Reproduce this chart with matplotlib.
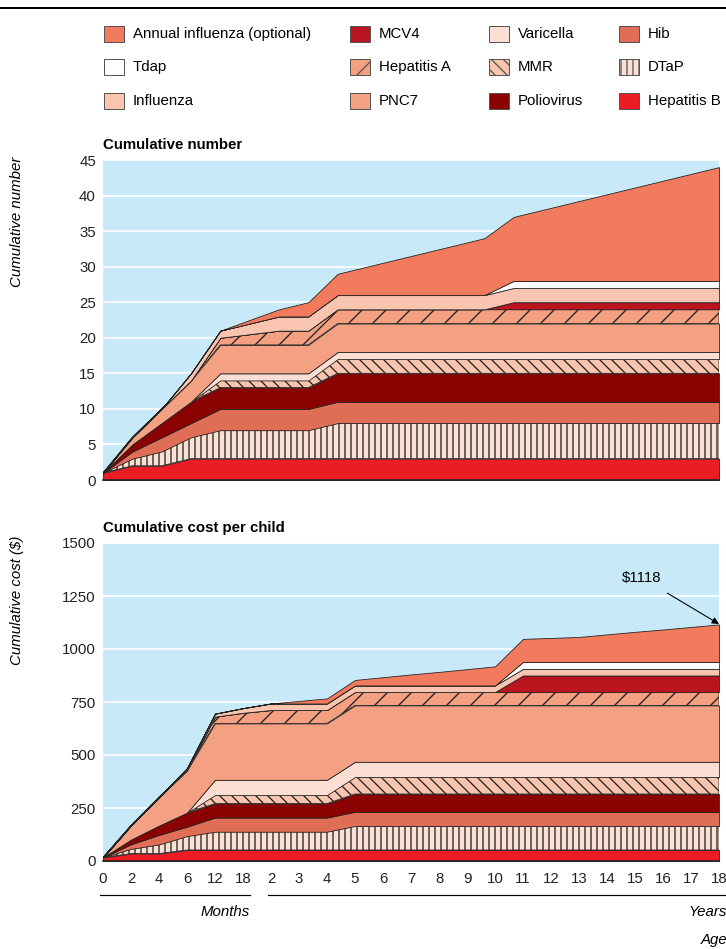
import numpy as np
import matplotlib
matplotlib.use("Agg")
import matplotlib.pyplot as plt
from matplotlib.patches import Rectangle
from matplotlib.lines import Line2D

plt.rcParams['font.family'] = ['Liberation Sans', 'DejaVu Sans']
plt.rcParams['hatch.linewidth'] = 1.3

# ages shown on the cost chart (months then years)
age_labels = ["0", "2", "4", "6", "12", "18",
              "2", "3", "4", "5", "6", "7", "8", "9", "10",
              "11", "12", "13", "14", "15", "16", "17", "18"]

# the number chart in the original has no separate 18-month point,
# its points sit on a 22-slot grid (18 mo and 2 y share slot 5)
top_slots = [0, 1, 2, 3, 4, 6, 7, 8, 9, 10, 11, 12, 13, 14, 15, 16, 17, 18, 19, 20, 21]

# stacking order, bottom to top
names = ["Hepatitis B", "DTaP", "Hib", "Poliovirus", "MMR", "Varicella",
         "PNC7", "Hepatitis A", "MCV4", "Influenza", "Tdap",
         "Annual influenza (optional)"]

# cumulative number of doses, at 0,2,4,6,12 mo and 3..18 y
doses = {
    "Hepatitis B": [1, 2, 2, 3, 3, 3, 3, 3, 3, 3, 3, 3, 3, 3, 3, 3, 3, 3, 3, 3, 3],
    "DTaP":        [0, 1, 2, 3, 4, 4, 4, 5, 5, 5, 5, 5, 5, 5, 5, 5, 5, 5, 5, 5, 5],
    "Hib":         [0, 1, 2, 2, 3, 3, 3, 3, 3, 3, 3, 3, 3, 3, 3, 3, 3, 3, 3, 3, 3],
    "Poliovirus":  [0, 1, 2, 3, 3, 3, 3, 4, 4, 4, 4, 4, 4, 4, 4, 4, 4, 4, 4, 4, 4],
    "MMR":         [0, 0, 0, 0, 1, 1, 1, 2, 2, 2, 2, 2, 2, 2, 2, 2, 2, 2, 2, 2, 2],
    "Varicella":   [0, 0, 0, 0, 1, 1, 1, 1, 1, 1, 1, 1, 1, 1, 1, 1, 1, 1, 1, 1, 1],
    "PNC7":        [0, 1, 2, 3, 4, 4, 4, 4, 4, 4, 4, 4, 4, 4, 4, 4, 4, 4, 4, 4, 4],
    "Hepatitis A": [0, 0, 0, 0, 1, 2, 2, 2, 2, 2, 2, 2, 2, 2, 2, 2, 2, 2, 2, 2, 2],
    "MCV4":        [0, 0, 0, 0, 0, 0, 0, 0, 0, 0, 0, 0, 0, 1, 1, 1, 1, 1, 1, 1, 1],
    "Influenza":   [0, 0, 0, 1, 1, 2, 2, 2, 2, 2, 2, 2, 2, 2, 2, 2, 2, 2, 2, 2, 2],
    "Tdap":        [0, 0, 0, 0, 0, 0, 0, 0, 0, 0, 0, 0, 0, 1, 1, 1, 1, 1, 1, 1, 1],
    "Annual influenza (optional)":
                   [0, 0, 0, 0, 0, 1, 2, 3, 4, 5, 6, 7, 8, 9, 10, 11, 12, 13, 14, 15, 16],
}

# cumulative cost per child ($), at every age in age_labels
costs = {
    "Hepatitis B": [17, 35, 35, 52, 52, 52, 52, 52, 52, 52, 52, 52, 52, 52, 52, 52, 52, 52, 52, 52, 52, 52, 52],
    "DTaP":        [0, 22, 43, 65, 86, 86, 86, 86, 86, 113, 113, 113, 113, 113, 113, 113, 113, 113, 113, 113, 113, 113, 113],
    "Hib":         [0, 22, 45, 45, 67, 67, 67, 67, 67, 67, 67, 67, 67, 67, 67, 67, 67, 67, 67, 67, 67, 67, 67],
    "Poliovirus":  [0, 22, 44, 66, 66, 66, 66, 66, 66, 84, 84, 84, 84, 84, 84, 84, 84, 84, 84, 84, 84, 84, 84],
    "MMR":         [0, 0, 0, 0, 40, 40, 40, 40, 40, 80, 80, 80, 80, 80, 80, 80, 80, 80, 80, 80, 80, 80, 80],
    "Varicella":   [0, 0, 0, 0, 72, 72, 72, 72, 72, 72, 72, 72, 72, 72, 72, 72, 72, 72, 72, 72, 72, 72, 72],
    "PNC7":        [0, 67, 134, 200, 266, 266, 266, 266, 266, 266, 266, 266, 266, 266, 266, 266, 266, 266, 266, 266, 266, 266, 266],
    "Hepatitis A": [0, 0, 0, 0, 32, 50, 63, 63, 63, 63, 63, 63, 63, 63, 63, 63, 63, 63, 63, 63, 63, 63, 63],
    "MCV4":        [0, 0, 0, 0, 0, 0, 0, 0, 0, 0, 0, 0, 0, 0, 0, 78, 78, 78, 78, 78, 78, 78, 78],
    "Influenza":   [0, 0, 0, 10, 14, 22, 31, 31, 31, 31, 31, 31, 31, 31, 31, 31, 31, 31, 31, 31, 31, 31, 31],
    "Tdap":        [0, 0, 0, 0, 0, 0, 0, 0, 0, 0, 0, 0, 0, 0, 0, 33, 33, 33, 33, 33, 33, 33, 33],
    "Annual influenza (optional)":
                   [0, 0, 0, 0, 0, 0, 0, 12, 24, 26, 39, 52, 64, 77, 90, 109, 113, 118, 130, 142, 153, 165, 177],
}
total_cost = 1118

colors = {
    "Hepatitis B": "#EC1C24", "DTaP": "#FDE0D4", "Hib": "#E06E57",
    "Poliovirus": "#8B0000", "MMR": "#FAC5AF", "Varicella": "#FDDED3",
    "PNC7": "#F4A083", "Hepatitis A": "#F4A081", "MCV4": "#BA141F",
    "Influenza": "#F9C5B1", "Tdap": "#FFFFFF",
    "Annual influenza (optional)": "#F27A5D",
}
hatches = {"DTaP": "||", "MMR": "\\\\", "Hepatitis A": "/"}

W, H = 726, 949
fig = plt.figure(figsize=(W / 72, H / 72), dpi=72)


def fx(px):
    return px / W


def fy(py):
    return 1 - py / H


def draw_stack(ax, x, data):
    base = np.zeros(len(x))
    for name in names:
        top = base + np.array(data[name], dtype=float)
        ax.fill_between(x, base, top, facecolor=colors[name], edgecolor="#222222",
                        hatch=hatches.get(name), linewidth=0.8, zorder=2)
        base = top


def style_axes(ax):
    ax.set_facecolor("#C8EAF8")
    ax.yaxis.grid(True, color="white", linewidth=1.6, zorder=1)
    ax.set_axisbelow(True)
    for side in ["top", "right", "left"]:
        ax.spines[side].set_visible(False)
    ax.spines["bottom"].set_color("#222222")
    ax.spines["bottom"].set_linewidth(1.6)
    ax.spines["bottom"].set_zorder(3)
    ax.tick_params(length=0, labelsize=15, pad=7, colors="#222222")


# top chart: cumulative number
ax1 = fig.add_axes([fx(103), fy(480), fx(616), 320 / H])
style_axes(ax1)
draw_stack(ax1, top_slots, doses)
ax1.set_xlim(0, 21)
ax1.set_ylim(0, 45)
ax1.set_yticks(range(0, 46, 5))
ax1.set_xticks([])
ax1.text(0, 1.025, "Cumulative number", transform=ax1.transAxes, fontsize=15,
         fontweight="bold", ha="left", va="bottom")

# bottom chart: cumulative cost
ax2 = fig.add_axes([fx(103), fy(861), fx(616), 318 / H])
style_axes(ax2)
x2 = np.arange(len(age_labels))
draw_stack(ax2, x2, costs)
ax2.set_xlim(0, len(age_labels) - 1)
ax2.set_ylim(0, 1500)
ax2.set_yticks(range(0, 1501, 250))
ax2.set_xticks(x2)
ax2.set_xticklabels(age_labels)
ax2.tick_params(axis="x", pad=11)
ax2.text(0, 1.025, "Cumulative cost per child", transform=ax2.transAxes, fontsize=15,
         fontweight="bold", ha="left", va="bottom")
ax2.annotate(r"\$1118", xy=(x2[-1], total_cost), xytext=(x2[-1] - 2.75, 1335),
             fontsize=15, ha="center", va="center",
             arrowprops=dict(arrowstyle="-|>", color="black", lw=1.1,
                             shrinkA=12, shrinkB=0, mutation_scale=14))

# y labels
fig.text(fx(17), fy(222), "Cumulative number", rotation=90, style="italic",
         fontsize=15, ha="center", va="center")
fig.text(fx(17), fy(600), r"Cumulative cost (\$)", rotation=90, style="italic",
         fontsize=15, ha="center", va="center")

# months / years brackets under the axis
fig.add_artist(Line2D([fx(100), fx(250)], [fy(895), fy(895)], color="black", lw=1.2))
fig.add_artist(Line2D([fx(268), fx(726)], [fy(895), fy(895)], color="black", lw=1.2))
fig.text(fx(250), fy(912), "Months", style="italic", fontsize=15, ha="right", va="center")
fig.text(fx(727), fy(912), "Years", style="italic", fontsize=15, ha="right", va="center")
fig.text(fx(727), fy(940), "Age", style="italic", fontsize=15, ha="right", va="center")

# rule at the top
fig.add_artist(Line2D([0, 1], [fy(8), fy(8)], color="black", lw=2))

# legend, 3 rows x 4 columns, reverse stacking order read column-wise
col_x = [104, 350, 489, 619]
row_y = [34, 67, 101]
legend_order = names[::-1]
for i, name in enumerate(legend_order):
    c, r = divmod(i, 3)
    x0, y0 = col_x[c], row_y[r]
    fig.add_artist(Rectangle((fx(x0), fy(y0 + 8)), fx(20), 16 / H,
                             facecolor=colors[name], edgecolor="#555555",
                             hatch=hatches.get(name), linewidth=1.0,
                             transform=fig.transFigure))
    fig.text(fx(x0 + 29), fy(y0), name, fontsize=15, ha="left", va="center")

fig.savefig("out.png", dpi=72)
